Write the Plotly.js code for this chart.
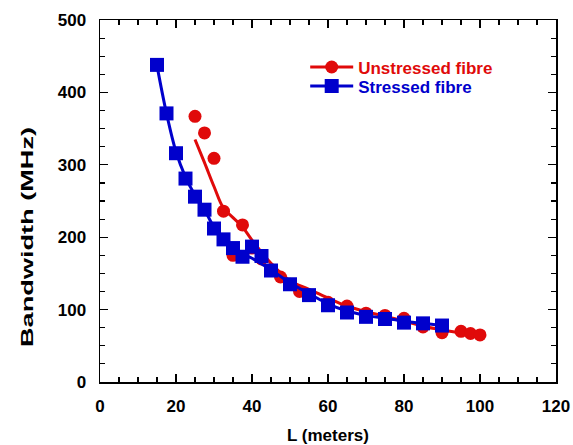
<!DOCTYPE html>
<html><head><meta charset="utf-8">
<script src="https://cdn.plot.ly/plotly-3.0.1.min.js"></script>
<style>html,body{margin:0;padding:0;background:#fff}#chart{width:573px;height:445px}</style>
</head><body><div id="chart"></div>
<script>
// Measured data points
const unstressedL  = [25, 27.5, 30, 32.5, 35, 37.5, 40, 42.5, 45, 47.5, 50, 52.5, 55, 60, 65, 70, 75, 80, 85, 90, 95, 97.5, 100];
const unstressedBW = [367, 344, 309, 236, 175, 217, 185, 170, 155, 145, 135, 125, 120, 110, 105, 95, 92, 88, 76, 68, 70, 67, 65];
const stressedL  = [15, 17.5, 20, 22.5, 25, 27.5, 30, 32.5, 35, 37.5, 40, 42.5, 45, 50, 55, 60, 65, 70, 75, 80, 85, 90];
const stressedBW = [438, 371, 316, 281, 256, 238, 212, 197, 185, 173, 187, 174, 154, 135, 120, 106, 96, 90, 87, 82, 81, 78];
// Fitted curves
const unstressedFitL  = [25, 27.5, 30, 32.5, 35, 37.5, 40, 45, 50, 55, 60, 65, 70, 75, 80, 85, 90, 95, 100];
const unstressedFitBW = [335, 303, 270, 240, 227, 214, 196, 164, 140, 128, 116, 105, 97, 91, 84, 77, 72, 68, 66];
const stressedFitL  = [15, 17.5, 20, 22.5, 25, 27.5, 30, 32.5, 35, 37.5, 40, 42.5, 45, 50, 55, 60, 65, 70, 75, 80, 85, 90];
const stressedFitBW = [437, 371, 318, 283, 258, 238, 214, 199, 187, 177, 171, 163, 155, 137, 122, 108, 98, 92, 88, 84, 81, 78];

const RED = '#e00a0a', BLUE = '#0000cc';
const FONT = 'Liberation Sans, Arial, sans-serif';
const traces = [
  {x: unstressedFitL, y: unstressedFitBW, mode: 'lines', line: {color: RED, width: 3, shape: 'spline'}, showlegend: false, hoverinfo: 'skip'},
  {x: unstressedL, y: unstressedBW, mode: 'markers', marker: {color: RED, size: 13, symbol: 'circle'}, showlegend: false},
  {x: stressedFitL, y: stressedFitBW, mode: 'lines', line: {color: BLUE, width: 3, shape: 'spline'}, showlegend: false, hoverinfo: 'skip'},
  {x: stressedL, y: stressedBW, mode: 'markers', marker: {color: BLUE, size: 14, symbol: 'square'}, showlegend: false},
  {x: [null], y: [null], mode: 'lines+markers', name: 'Unstressed fibre', legend: 'legend',
   line: {color: RED, width: 3}, marker: {color: RED, size: 13, symbol: 'circle'}},
  {x: [null], y: [null], mode: 'lines+markers', name: 'Stressed fibre', legend: 'legend2',
   line: {color: BLUE, width: 3}, marker: {color: BLUE, size: 14, symbol: 'square'}}
];
const axisCommon = {
  showgrid: false, zeroline: false, showline: true, linecolor: '#000', linewidth: 1.5,
  mirror: 'allticks', ticks: 'inside', ticklen: 8, tickwidth: 1.2, tickcolor: '#000',
  tickfont: {family: FONT, size: 17, color: '#000', weight: 'bold'}
};
const legendCommon = {xanchor: 'left', yanchor: 'middle', bgcolor: 'rgba(0,0,0,0)', borderwidth: 0,
  itemwidth: 43, font: {family: FONT, size: 17, weight: 'bold'}};
const layout = {
  width: 573, height: 445,
  margin: {l: 100, r: 17, t: 20, b: 63},
  paper_bgcolor: '#fff', plot_bgcolor: '#fff',
  font: {family: FONT, color: '#000'},
  xaxis: Object.assign({}, axisCommon, {range: [0, 120], dtick: 20, ticklabelstandoff: 8,
    minor: {dtick: 5, ticks: 'inside', ticklen: 5, tickcolor: '#000'},
    title: {text: '<b>L (meters)</b>', font: {size: 17, family: FONT}, standoff: 16}}),
  yaxis: Object.assign({}, axisCommon, {range: [0, 500], dtick: 100, ticklabelstandoff: 9,
    minor: {dtick: 25, ticks: 'inside', ticklen: 5, tickcolor: '#000'},
    title: {text: '<b>Bandwidth (MHz)</b>', font: {size: 17, family: FONT}, standoff: 20}}),
  showlegend: true,
  legend: Object.assign({}, legendCommon, {x: 0.45, y: 0.869, font: {family: FONT, size: 17, weight: 'bold', color: RED}}),
  legend2: Object.assign({}, legendCommon, {x: 0.45, y: 0.8166, font: {family: FONT, size: 17, weight: 'bold', color: BLUE}})
};
Plotly.newPlot('chart', traces, layout, {displayModeBar: false, staticPlot: true}).then(() => {
  const yt = document.querySelector('.ytitle');
  if (yt) {
    yt.setAttribute('textLength', '220');
    yt.setAttribute('lengthAdjust', 'spacingAndGlyphs');
    const tr = yt.getAttribute('transform') || '';
    yt.setAttribute('transform', 'translate(0,36) ' + tr);
  }
});
</script></body></html>
